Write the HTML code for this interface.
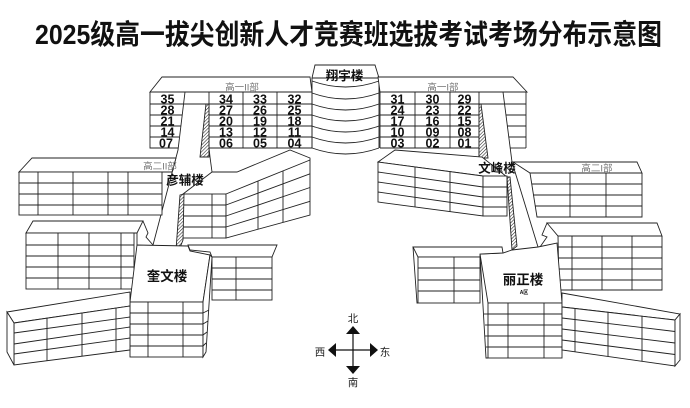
<!DOCTYPE html>
<html><head><meta charset="utf-8">
<style>
html,body{margin:0;padding:0;background:#fff;}
body{width:690px;height:408px;overflow:hidden;}
svg{display:block;}
text{font-family:"Liberation Sans","Noto Sans CJK SC",sans-serif;}
.n{font-size:12.5px;font-weight:bold;fill:#111;text-anchor:middle;}
.g{font-size:9.5px;fill:#777;text-anchor:middle;}
.b{font-weight:bold;fill:#111;text-anchor:middle;}
</style></head>
<body>
<svg width="690" height="408" viewBox="0 0 690 408" xmlns="http://www.w3.org/2000/svg">
<defs>
<pattern id="h" width="2.4" height="2.4" patternUnits="userSpaceOnUse" patternTransform="rotate(45)">
<rect width="2.4" height="2.4" fill="#fff"/>
<line x1="0" y1="0" x2="0" y2="2.4" stroke="#222" stroke-width="1.1"/>
</pattern>
</defs>
<rect width="690" height="408" fill="#fff"/>

<text x="35" y="44" font-size="28" font-weight="bold" fill="#111" textLength="627" lengthAdjust="spacingAndGlyphs">2025级高一拔尖创新人才竞赛班选拔考试考场分布示意图</text>

<g stroke="#222" stroke-width="0.9" fill="none">
<!-- Top-left wing 高一II部 -->
<polygon points="162,77 310,77 312,92 150,92" fill="#fff"/>
<polyline points="150,92 150,148 178,148"/>
<line x1="209" y1="148" x2="312" y2="148"/>
<line x1="312" y1="92" x2="312" y2="148"/>
<line x1="150" y1="104" x2="312" y2="104"/>
<line x1="150" y1="115" x2="182" y2="115"/><line x1="209" y1="115" x2="312" y2="115"/>
<line x1="150" y1="126" x2="181" y2="126"/><line x1="209" y1="126" x2="312" y2="126"/>
<line x1="150" y1="137" x2="179" y2="137"/><line x1="209" y1="137" x2="312" y2="137"/>
<line x1="209" y1="92" x2="209" y2="148"/>
<polyline points="209,148 210,157 212,172"/>
<line x1="243" y1="92" x2="243" y2="148"/>
<line x1="277" y1="92" x2="277" y2="148"/>
<polyline points="185,92 178,150 153,245"/>
<polygon points="206,104 209,104 209,157 200,157" fill="url(#h)"/>

<!-- 翔宇楼 -->
<polygon points="315,65 375,65 379,78 312,78" fill="#fff"/>
<line x1="312" y1="78" x2="312" y2="148"/>
<line x1="379" y1="78" x2="379" y2="148"/>
<path d="M312,81 Q345.5,93 379,81"/>
<path d="M312,93 Q345.5,105 379,93"/>
<path d="M312,104 Q345.5,116 379,104"/>
<path d="M312,115 Q345.5,127 379,115"/>
<path d="M312,126 Q345.5,138 379,126"/>
<path d="M312,137 Q345.5,149 379,137"/>
<path d="M312,148 Q345.5,160 379,148"/>

<!-- Top-right wing 高一I部 -->
<polygon points="378,77 513,77 527,92 380,92" fill="#fff"/>
<line x1="380" y1="92" x2="380" y2="148"/>
<line x1="526" y1="92" x2="526" y2="148"/>
<line x1="380" y1="104" x2="526" y2="104"/>
<line x1="380" y1="115" x2="479" y2="115"/><line x1="505.8" y1="115" x2="526" y2="115"/>
<line x1="380" y1="126" x2="479" y2="126"/><line x1="507.3" y1="126" x2="526" y2="126"/>
<line x1="380" y1="137" x2="479" y2="137"/><line x1="508.7" y1="137" x2="526" y2="137"/>
<line x1="380" y1="148" x2="479" y2="148"/><line x1="510" y1="148" x2="526" y2="148"/>
<line x1="415" y1="92" x2="415" y2="148"/>
<line x1="450" y1="92" x2="450" y2="148"/>
<line x1="479" y1="92" x2="479" y2="158"/>
<polyline points="503,92 512,162 538,247"/>
<polygon points="479,104 481,104 488,158 479,158" fill="url(#h)"/>

<!-- 文峰楼 -->
<polygon points="378,162 395,150 482,157 507,177 483,176" fill="#fff"/>
<polygon points="378,162 483,176 483,216 378,202" fill="#fff"/>
<line x1="378" y1="172" x2="483" y2="187"/>
<line x1="378" y1="182" x2="483" y2="197"/>
<line x1="378" y1="192" x2="483" y2="207"/>
<line x1="415" y1="166.9" x2="415" y2="206.9"/>
<line x1="450" y1="171.6" x2="450" y2="211.6"/>
<rect x="483" y="176" width="24" height="40" fill="#fff"/>
<line x1="483" y1="187" x2="507" y2="187"/>
<line x1="483" y1="197" x2="507" y2="197"/>
<line x1="483" y1="207" x2="507" y2="207"/>
<polygon points="507,177 510,177 517,246 512,250" fill="url(#h)"/>

<!-- 高二I部 building -->
<polygon points="513,162 637,162 642,173 530,173" fill="#fff"/>
<polyline points="530,173 537,217 642,217 642,173"/>
<line x1="531.7" y1="184" x2="642" y2="184"/>
<line x1="533.4" y1="195" x2="642" y2="195"/>
<line x1="535.2" y1="206" x2="642" y2="206"/>
<line x1="570" y1="173" x2="570" y2="217"/>
<line x1="606" y1="173" x2="606" y2="217"/>

<!-- right row-2 right building -->
<polygon points="547,223 657,223 662,236 558,236" fill="#fff"/>
<polyline points="547,223 542,235 547,237 540,247"/>
<polyline points="558,236 559,290 662,290 662,236"/>
<line x1="558" y1="247" x2="662" y2="247"/>
<line x1="558" y1="258" x2="662" y2="258"/>
<line x1="558" y1="269" x2="662" y2="269"/>
<line x1="559" y1="280" x2="662" y2="280"/>
<line x1="572" y1="236" x2="572" y2="290"/>
<line x1="602" y1="236" x2="602" y2="290"/>
<line x1="632" y1="236" x2="632" y2="290"/>

<!-- 丽正楼 -->
<polygon points="480,254 503,253 512,250 538,247 557,243 562,303 488,303" fill="#fff"/>
<rect x="488" y="303" width="74" height="55" fill="#fff"/>
<line x1="488" y1="314" x2="562" y2="314"/>
<line x1="488" y1="325" x2="562" y2="325"/>
<line x1="488" y1="336" x2="562" y2="336"/>
<line x1="488" y1="347" x2="562" y2="347"/>
<line x1="508" y1="303" x2="508" y2="358"/>
<line x1="544" y1="303" x2="544" y2="358"/>
<polyline points="480,254 486,358 488,358"/>
<line x1="484" y1="314" x2="488" y2="314"/>
<line x1="485" y1="325" x2="488" y2="325"/>
<line x1="485" y1="336" x2="488" y2="336"/>
<line x1="486" y1="347" x2="488" y2="347"/>

<!-- right row-2 left building -->
<polygon points="413,247 502,247 503,253 480,254 480,257 418,257" fill="#fff"/>
<rect x="418" y="257" width="62" height="46" fill="#fff"/>
<line x1="418" y1="268" x2="480" y2="268"/>
<line x1="418" y1="280" x2="480" y2="280"/>
<line x1="418" y1="291" x2="480" y2="291"/>
<line x1="454" y1="257" x2="454" y2="303"/>
<polyline points="413,247 417,303 418,303"/>

<!-- long bottom-right -->
<polygon points="562,293 680,314 675,320 562,307" fill="#fff"/>
<polygon points="562,307 675,320 675,366 562,350" fill="#fff"/>
<polygon points="675,320 680,314 680,360 675,366" fill="#fff"/>
<line x1="562" y1="318" x2="675" y2="331.5"/>
<line x1="562" y1="329" x2="675" y2="343"/>
<line x1="562" y1="340" x2="675" y2="354.5"/>
<line x1="575" y1="308.5" x2="575" y2="351.8"/>
<line x1="608" y1="312.3" x2="608" y2="356.5"/>
<line x1="642" y1="316.2" x2="642" y2="361.3"/>

<!-- 高二II部 building -->
<polygon points="32,158 176,158 172,172 19,172" fill="#fff"/>
<rect x="19" y="172" width="143" height="43" fill="#fff"/>
<line x1="19" y1="183" x2="162" y2="183"/>
<line x1="19" y1="194" x2="162" y2="194"/>
<line x1="19" y1="205" x2="162" y2="205"/>
<line x1="38" y1="172" x2="38" y2="215"/>
<line x1="73" y1="172" x2="73" y2="215"/>
<line x1="108" y1="172" x2="108" y2="215"/>
<line x1="128" y1="172" x2="128" y2="215"/>

<!-- left row-2 left building -->
<polygon points="33,221 143,221 137,233 26,233" fill="#fff"/>
<rect x="26" y="233" width="108" height="56" fill="#fff"/>
<line x1="26" y1="245" x2="134" y2="245"/>
<line x1="26" y1="256" x2="134" y2="256"/>
<line x1="26" y1="267" x2="134" y2="267"/>
<line x1="26" y1="278" x2="134" y2="278"/>
<line x1="58" y1="233" x2="58" y2="289"/>
<line x1="89" y1="233" x2="89" y2="289"/>
<line x1="121" y1="233" x2="121" y2="289"/>
<line x1="137" y1="233" x2="137" y2="289"/>
<polyline points="143,221 148,233 146,237 153,245"/>

<!-- 彦辅楼 east block -->
<polyline points="212,172 237,172 290,150 310,158 310,160"/>
<line x1="183" y1="194" x2="212" y2="172"/>
<rect x="183" y="194" width="43" height="44" fill="#fff"/>
<line x1="183" y1="205" x2="226" y2="205"/>
<line x1="183" y1="216" x2="226" y2="216"/>
<line x1="183" y1="227" x2="226" y2="227"/>
<line x1="212" y1="194" x2="212" y2="238"/>
<polygon points="226,194 310,160 310,215 226,238" fill="#fff"/>
<line x1="226" y1="205" x2="310" y2="173.8"/>
<line x1="226" y1="216" x2="310" y2="187.5"/>
<line x1="226" y1="227" x2="310" y2="201.3"/>
<line x1="258" y1="181" x2="258" y2="229.2"/>
<line x1="283" y1="170.9" x2="283" y2="222.4"/>
<polygon points="180,195 184,194 183,240 179,250 176,250" fill="url(#h)"/>
<line x1="177" y1="250" x2="188" y2="246"/>

<!-- 奎文楼 -->
<polygon points="137,245 188,246 190,251 210,255 203,302 130,302" fill="#fff"/>
<rect x="130" y="302" width="73" height="55" fill="#fff"/>
<line x1="130" y1="313" x2="203" y2="313"/>
<line x1="130" y1="324" x2="203" y2="324"/>
<line x1="130" y1="335" x2="203" y2="335"/>
<line x1="130" y1="346" x2="203" y2="346"/>
<line x1="148" y1="302" x2="148" y2="357"/>
<line x1="183" y1="302" x2="183" y2="357"/>
<polygon points="203,302 210,255 212,257 206,352 203,357" fill="#fff"/>
<line x1="203" y1="313" x2="209" y2="310"/>
<line x1="203" y1="324" x2="208" y2="321"/>
<line x1="203" y1="335" x2="207" y2="332"/>
<line x1="203" y1="346" x2="206" y2="343"/>

<!-- left row-2 right building -->
<polygon points="188,245 277,245 272,257 212,257 210,252 190,250" fill="#fff"/>
<rect x="212" y="257" width="60" height="43" fill="#fff"/>
<line x1="212" y1="268" x2="272" y2="268"/>
<line x1="212" y1="279" x2="272" y2="279"/>
<line x1="212" y1="290" x2="272" y2="290"/>
<line x1="236" y1="257" x2="236" y2="300"/>

<!-- long bottom-left -->
<polygon points="7,312 130,292 130,306 14,323" fill="#fff"/>
<polygon points="14,323 130,306 130,350 14,365" fill="#fff"/>
<polygon points="7,312 14,323 14,365 7,352" fill="#fff"/>
<line x1="14" y1="333" x2="130" y2="317"/>
<line x1="14" y1="344" x2="130" y2="327"/>
<line x1="14" y1="354" x2="130" y2="338"/>
<line x1="47" y1="318.2" x2="47" y2="360.7"/>
<line x1="82" y1="313" x2="82" y2="356.2"/>
<line x1="116" y1="308.1" x2="116" y2="351.8"/>

<!-- compass -->
<line x1="353" y1="330" x2="353" y2="370" stroke="#111" stroke-width="1.2"/>
<line x1="332" y1="350" x2="374" y2="350" stroke="#111" stroke-width="1.2"/>
</g>
<g fill="#111">
<polygon points="353,326 346,334 360,334"/>
<polygon points="353,374 346,366 360,366"/>
<polygon points="328,350 336,343 336,357"/>
<polygon points="378,350 370,343 370,357"/>
</g>

<!-- numbers left wing -->
<g class="n">
<text x="167.5" y="103.5" class="n">35</text><text x="226" y="103.5" class="n">34</text><text x="260" y="103.5" class="n">33</text><text x="294.5" y="103.5" class="n">32</text>
<text x="167.5" y="114.5" class="n">28</text><text x="226" y="114.5" class="n">27</text><text x="260" y="114.5" class="n">26</text><text x="294.5" y="114.5" class="n">25</text>
<text x="167.5" y="125.5" class="n">21</text><text x="226" y="125.5" class="n">20</text><text x="260" y="125.5" class="n">19</text><text x="294.5" y="125.5" class="n">18</text>
<text x="167.5" y="136.5" class="n">14</text><text x="226" y="136.5" class="n">13</text><text x="260" y="136.5" class="n">12</text><text x="294.5" y="136.5" class="n">11</text>
<text x="166" y="147.5" class="n">07</text><text x="226" y="147.5" class="n">06</text><text x="260" y="147.5" class="n">05</text><text x="294.5" y="147.5" class="n">04</text>
<!-- right wing -->
<text x="397.5" y="103.5" class="n">31</text><text x="432.5" y="103.5" class="n">30</text><text x="464.5" y="103.5" class="n">29</text>
<text x="397.5" y="114.5" class="n">24</text><text x="432.5" y="114.5" class="n">23</text><text x="464.5" y="114.5" class="n">22</text>
<text x="397.5" y="125.5" class="n">17</text><text x="432.5" y="125.5" class="n">16</text><text x="464.5" y="125.5" class="n">15</text>
<text x="397.5" y="136.5" class="n">10</text><text x="432.5" y="136.5" class="n">09</text><text x="464.5" y="136.5" class="n">08</text>
<text x="397.5" y="147.5" class="n">03</text><text x="432.5" y="147.5" class="n">02</text><text x="464.5" y="147.5" class="n">01</text>
</g>

<!-- gray section labels -->
<text x="242" y="90.5" class="g">高一II部</text>
<text x="443" y="90.5" class="g">高一I部</text>
<text x="160" y="169.5" class="g">高二II部</text>
<text x="597" y="171.5" class="g">高二I部</text>

<!-- building labels -->
<text x="344.5" y="80" class="b" font-size="12.5">翔宇楼</text>
<text x="185" y="184.5" class="b" font-size="12.5">彦辅楼</text>
<text x="497" y="172.5" class="b" font-size="12.5">文峰楼</text>
<text x="167" y="281" class="b" font-size="13.5">奎文楼</text>
<text x="523" y="284.5" class="b" font-size="13.5">丽正楼</text>
<text x="524" y="294" class="b" font-size="5">A区</text>

<!-- compass labels -->
<text x="353" y="322" font-size="10.5" fill="#222" text-anchor="middle">北</text>
<text x="353" y="386" font-size="10.5" fill="#222" text-anchor="middle">南</text>
<text x="320" y="355.5" font-size="10.5" fill="#222" text-anchor="middle">西</text>
<text x="385" y="355.5" font-size="10.5" fill="#222" text-anchor="middle">东</text>
</svg>
</body></html>
